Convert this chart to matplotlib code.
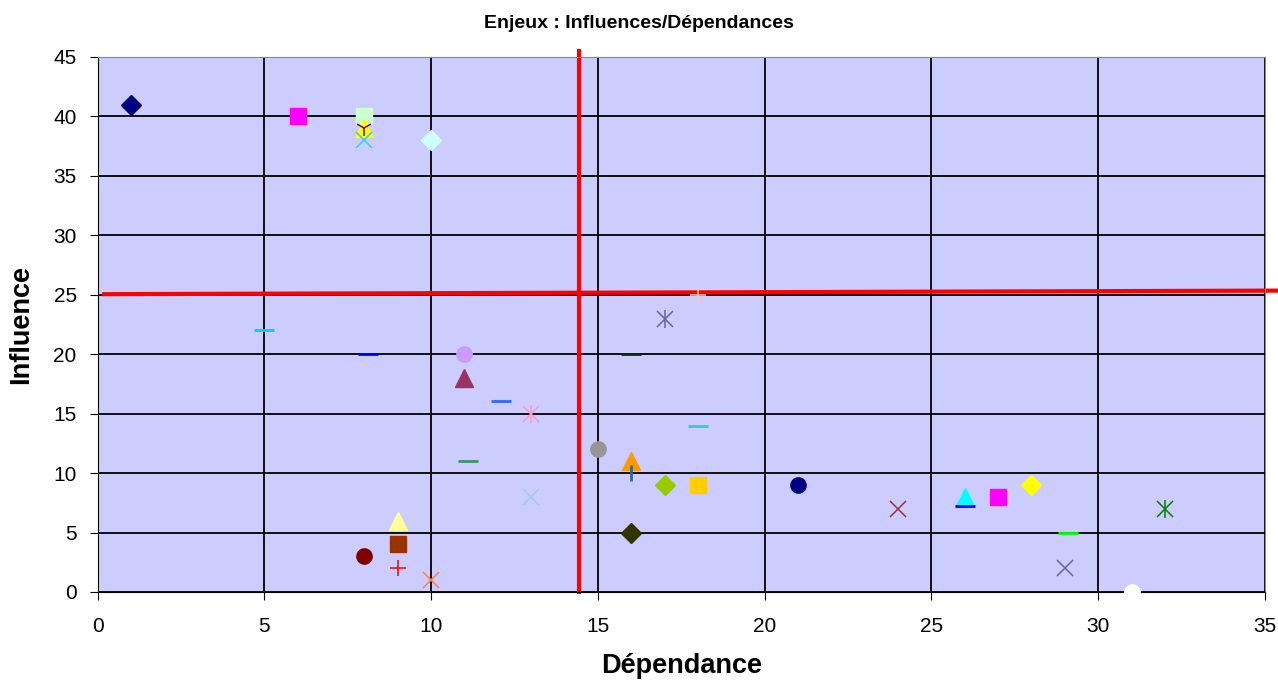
import matplotlib.pyplot as plt

plt.rcParams['font.family'] = ['Liberation Sans', 'DejaVu Sans']

# data: (dependance, influence)
dependance = [1, 6, 8, 8, 8, 8, 10, 5, 8.1, 11, 11, 12.1, 13, 11.1, 13, 15, 16, 16,
              17, 18, 16, 16, 17, 18, 18, 21, 24, 26, 26, 27, 28, 29.1, 29, 32, 31,
              8, 9, 9, 9, 10]
influence = [41, 40, 40, 39, 39, 38, 38, 22, 20, 20, 18, 16.1, 15, 11, 8, 12, 11, 10,
             9, 9, 5, 20, 23, 25, 14, 9, 7, 8, 7.2, 8, 9, 5, 2, 7, 0,
             3, 4, 6, 2, 1]

# styles ('ast' = excel asterisk: x plus vertical bar)
markers = ['D', 's', 's', '^', '1', 'x', 'D', '_', '_', 'o', '^', '_', 'ast', '_', 'x', 'o', '^', '|',
           'D', 's', 'D', '_', 'ast', '+', '_', 'o', 'x', '^', '_', 's', 'D', '_', 'x', 'ast', 'o',
           'o', 's', '^', '+', 'x']
colors = ['#000080', '#FF00FF', '#CCFFCC', '#FFFF00', '#800080', '#33CCFF', '#CCFFFF', '#00CCFF',
          '#0000FF', '#CC99FF', '#993366', '#3366FF', '#FF99CC', '#339966', '#99CCFF', '#969696',
          '#FF9900', '#336699', '#99CC00', '#FFCC00', '#333300', '#003300', '#666699', '#FFCC99',
          '#33CCCC', '#000080', '#993333', '#00FFFF', '#0000FF', '#FF00FF', '#FFFF00', '#00FF00',
          '#666699', '#008000', '#FFFFFF', '#800000', '#993300', '#FFFF99', '#FF0000', '#FF8040']
sizes = {'D': 10, 's': 12, '^': 13, 'o': 11, 'x': 11, '1': 12, '+': 12, '|': 12, '_': 14}

fig = plt.figure(figsize=(12.78, 6.81), dpi=100)
ax = fig.add_axes([0.0763, 0.1307, 0.9135, 0.7856])
ax.set_facecolor('#CCCCFF')

for x, y, m, c in zip(dependance, influence, markers, colors):
    if m == 'ast':
        ax.plot(x, y, 'x', markersize=11, color=c, mew=1.1, zorder=3)
        ax.plot(x, y, '|', markersize=13, color=c, mew=1.1, zorder=3)
        continue
    filled = m in ('D', 's', '^', 'o')
    ax.plot(x, y, linestyle='none', marker=m, markersize=sizes[m], color=c,
            markeredgewidth=1 if filled else 2 if m in ('_', '|') else 1.1,
            markeredgecolor=c, zorder=3, clip_on=False)

# quadrant lines
ax.plot([14.43, 14.43], [0, 45.5], color='red', lw=3, zorder=2, clip_on=False)
ax.plot([0.2, 35.4], [25.05, 25.35], color='red', lw=3, zorder=2, clip_on=False)

ax.set_xlim(0, 35)
ax.set_ylim(0, 45)
ax.set_xticks(range(0, 36, 5))
ax.set_yticks(range(0, 46, 5))
ax.grid(True, color='black', lw=1.3)
ax.set_axisbelow(True)
ax.tick_params(axis='x', labelsize=15, length=6, direction='out', pad=12)
ax.tick_params(axis='y', labelsize=15, length=6, direction='out', pad=9)
for s in ['top', 'right']:
    ax.spines[s].set_color('#888888')
ax.set_xlabel('Dépendance', fontsize=19.5, fontweight='bold', labelpad=12)
ax.set_ylabel('Influence', fontsize=19.5, fontweight='bold', labelpad=14)
fig.text(0.5, 0.965, 'Enjeux : Influences/Dépendances', ha='center', va='center',
         fontsize=14, fontweight='bold')

fig.savefig('out.png', dpi=100)
